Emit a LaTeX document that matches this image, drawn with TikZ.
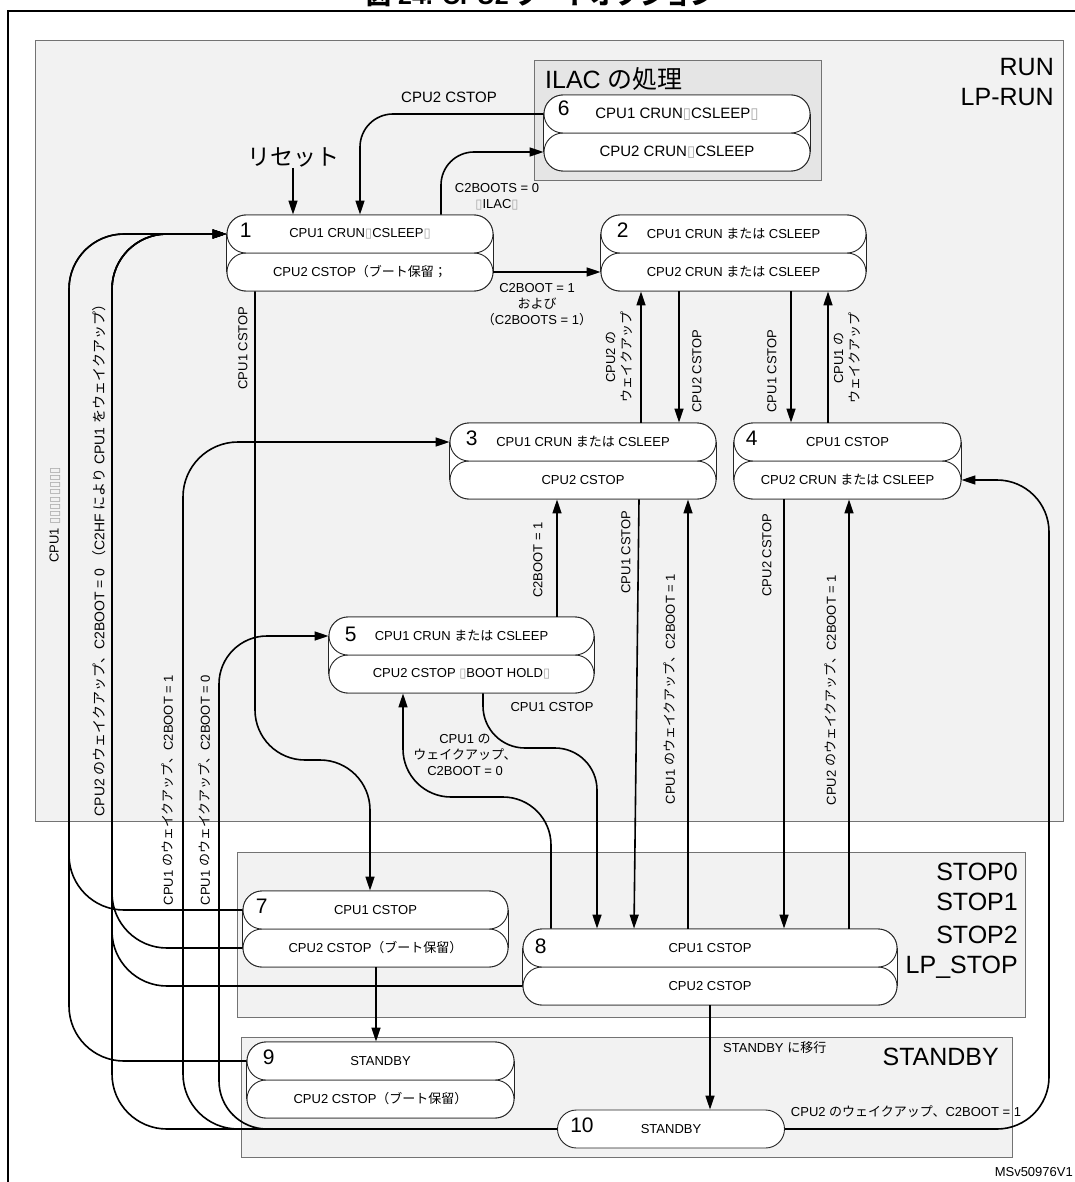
\documentclass[tikz,border=0pt]{standalone}
\usepackage{fontspec}
\usepackage{graphicx}
\setmainfont{Liberation Sans}
\newfontfamily\jpfont{Noto Sans CJK JP}
\newfontfamily\boxglyphfont{DejaVu Sans}
\usetikzlibrary{arrows.meta,shapes.misc}
\newcommand\J[1]{{\jpfont #1}}
\newcommand\tofu{{\color{black!35}\boxglyphfont ▯}}

\tikzset{
  half/.style={rounded rectangle, draw=black!85, fill=white, line width=0.9pt,
    minimum height=38pt, inner sep=0pt, font=\fontsize{13}{15}\selectfont},
  num/.style={anchor=west, inner sep=0pt, font=\fontsize{21}{23}\selectfont},
  wire/.style={line width=1.6pt, line join=round},
  flow/.style={wire, -{Triangle[length=14pt,width=9pt]}},
  lbl/.style={inner sep=1pt, font=\fontsize{13}{16}\selectfont, align=center},
  vlbl/.style={lbl, rotate=90},
  region/.style={draw=black!55, fill=black!5, line width=0.9pt},
  mode/.style={anchor=east, inner sep=0pt, font=\fontsize{25}{28}\selectfont},
}

% two-layer state box: name, centre x, top y, width, upper text, lower text
\newcommand\statebox[6]{%
  \node[half, minimum width=#4pt] (#1b) at (#2,#3+57) {};
  \node[half, minimum width=#4pt] (#1t) at (#2,#3+19) {};
  \fill[white] (#1t.west) rectangle (#1b.east);
  \draw[line width=0.6pt, black!85] (#1t.west) -- (#1b.west) (#1t.east) -- (#1b.east);
  \node[half, minimum width=#4pt] (#1b) at (#2,#3+57) {#6};
  \node[half, minimum width=#4pt] (#1t) at (#2,#3+19) {#5};
}

\begin{document}
\begin{tikzpicture}[x=1pt,y=-1pt]
\useasboundingbox (0,0) rectangle (1074,1182);

% frame and caption
\draw[line width=1.8pt] (8,11) rectangle (1090,1200);
\node[anchor=base, inner sep=0pt, font=\bfseries\fontsize{25}{28}\selectfont] (title) at (541,5)
  {\J{図} 24. CPU2 \J{ブートオプション}};

% power-mode regions
\draw[region] (35,40) rectangle (1063,821);
\draw[region, fill=black!10] (534,60) rectangle (821,180);
\draw[region] (237,852) rectangle (1025,1017);
\draw[region] (241,1037) rectangle (1012,1157);

\node[mode] (mRun) at (1054,67) {RUN};
\node[mode] (mLpRun) at (1054,97) {LP-RUN};
\node[mode, anchor=west] (mIlac) at (545,79) {ILAC \J{の処理}};
\node[mode] (mStop0) at (1018,872) {STOP0};
\node[mode] (mStop1) at (1018,902) {STOP1};
\node[mode] (mStop2) at (1018,935) {STOP2};
\node[mode] (mLpStop) at (1018,967) {LP\_STOP};
\node[mode] (mStandby) at (999,1057) {STANDBY};

% routing channels and bends
\coordinate (xA) at (69,0);
\coordinate (xB) at (112,0);
\coordinate (xC) at (183,0);
\coordinate (xD) at (219,0);
\coordinate (xR) at (1049,0);
\coordinate (xS) at (360,0);
\coordinate (xT) at (441,0);
\coordinate (xU) at (255,760);
\coordinate (k7) at (370,0);
\coordinate (v1) at (641,0);
\coordinate (v2) at (679,0);
\coordinate (v3) at (791,0);
\coordinate (v4) at (828,0);
\coordinate (v5) at (557,0);
\coordinate (v6) at (639,0);
\coordinate (v6b) at (634,0);
\coordinate (v7) at (688,0);
\coordinate (v8) at (784,0);
\coordinate (v9) at (849,0);
\coordinate (v10) at (483,748);
\coordinate (v11) at (597,0);
\coordinate (v12) at (551,797);
\coordinate (v13) at (403,0);
\coordinate (v14) at (376,0);
\coordinate (v15) at (710,0);

% state boxes
\statebox{b6}{677}{95}{266}{\fontsize{15}{17}\selectfont CPU1 CRUN\tofu{}CSLEEP\tofu}{\fontsize{15}{17}\selectfont CPU2 CRUN\tofu{}CSLEEP}
\statebox{b1}{360}{215}{266}{CPU1 CRUN\tofu{}CSLEEP\tofu}{CPU2 CSTOP\J{（ブート保留；}}
\statebox{b2}{733.5}{215}{265}{CPU1 CRUN \J{または} CSLEEP}{CPU2 CRUN \J{または} CSLEEP}
\statebox{b3}{583}{423}{266}{CPU1 CRUN \J{または} CSLEEP}{CPU2 CSTOP}
\statebox{b4}{847.5}{423}{227}{CPU1 CSTOP}{CPU2 CRUN \J{または} CSLEEP}
\statebox{b5}{461.5}{617}{265}{CPU1 CRUN \J{または} CSLEEP}{CPU2 CSTOP \tofu{}BOOT HOLD\tofu}
\statebox{b7}{375.5}{891}{265}{CPU1 CSTOP}{CPU2 CSTOP\J{（ブート保留）}}
\statebox{b8}{710}{929}{374}{CPU1 CSTOP}{CPU2 CSTOP}
\statebox{b9}{380.5}{1042}{267}{STANDBY}{CPU2 CSTOP\J{（ブート保留）}}
\node[half, minimum width=227pt] (b10) at (671,1129) {STANDBY};

\node[num] (n1) at ([xshift=13pt,yshift=4pt]b1t.west) {1};
\node[num] (n2) at ([xshift=16pt,yshift=4pt]b2t.west) {2};
\node[num] (n3) at ([xshift=16pt,yshift=4pt]b3t.west) {3};
\node[num] (n4) at ([xshift=12pt,yshift=4pt]b4t.west) {4};
\node[num] (n5) at ([xshift=16pt,yshift=2pt]b5t.west) {5};
\node[num] (n6) at ([xshift=14pt,yshift=6pt]b6t.west) {6};
\node[num] (n7) at ([xshift=13pt,yshift=4pt]b7t.west) {7};
\node[num] (n8) at ([xshift=12pt,yshift=2pt]b8t.west) {8};
\node[num] (n9) at ([xshift=16pt,yshift=4pt]b9t.west) {9};
\node[num] (n10) at ([xshift=13pt,yshift=4pt]b10.west) {10};

% reset entry
\node[inner sep=1pt, font=\jpfont\fontsize{23}{25}\selectfont] (reset) at (293,157) {リセット};
\draw[flow] (reset.south) -- (reset.south |- b1t.north);

% transitions in RUN
\draw[flow, rounded corners=33pt] (b6t.west) -| (xS |- b1t.north);
\draw[flow, rounded corners=33pt] (xT |- b1t.north) |- (b6b.west);
\draw[flow] (b1b.east) -- (b2b.west);
\draw[flow, rounded corners=50pt] (xU |- b1b.south) -- (xU) -| (k7 |- b7t.north);
\draw[flow] (v1 |- b3t.north) -- (v1 |- b2b.south);
\draw[flow] (v2 |- b2b.south) -- (v2 |- b3t.north);
\draw[flow] (v3 |- b2b.south) -- (v3 |- b4t.north);
\draw[flow] (v4 |- b4t.north) -- (v4 |- b2b.south);
\draw[flow] (v5 |- b5t.north) -- (v5 |- b3b.south);
\draw[flow] (v6 |- b3b.south) -- (v6b |- b8t.north);
\draw[flow] (v7 |- b8t.north) -- (v7 |- b3b.south);
\draw[flow] (v8 |- b4b.south) -- (v8 |- b8t.north);
\draw[flow] (v9 |- b8t.north) -- (v9 |- b4b.south);
\draw[flow, rounded corners=42pt] (v10 |- b5b.south) -- (v10) -| (v11 |- b8t.north);
\draw[flow, rounded corners=48pt] (v12 |- b8t.north) -- (v12) -| (v13 |- b5b.south);
\draw[flow] (v14 |- b7b.south) -- (v14 |- b9t.north);
\draw[flow] (v15 |- b8b.south) -- (v15 |- b10.north);

% wake-up returns along the left and right channels
\draw[flow, rounded corners=55pt] (b7t.west) -| (xA |- b1t.west) -- (b1t.west);
\draw[flow, rounded corners=55pt] (b9t.west) -| (xA |- b1t.west) -- (b1t.west);
\draw[flow, rounded corners=55pt] (b7b.west) -| (xB |- b1t.west) -- (b1t.west);
\draw[flow, rounded corners=55pt] (b8b.west) -| (xB |- b1t.west) -- (b1t.west);
\draw[flow, rounded corners=55pt] (b10.west) -| (xB |- b1t.west) -- (b1t.west);
\draw[flow, rounded corners=55pt] (b10.west) -| (xC |- b3t.west) -- (b3t.west);
\draw[flow, rounded corners=48pt] (b10.west) -| (xD |- b5t.west) -- (b5t.west);
\draw[flow, rounded corners=52pt] (b10.east) -| (xR |- b4b.east) -- (b4b.east);

% transition labels
\node[lbl, font=\fontsize{15}{17}\selectfont] (lCstop) at (449,97) {CPU2 CSTOP};
\node[lbl] (lIlac) at (497,197) {C2BOOTS = 0\\\tofu{}ILAC\tofu};
\node[lbl] (lBoot) at (537,305) {C2BOOT = 1\\\J{および}\\\J{（}C2BOOTS = 1\J{）}};
\node[vlbl] (lA) at (243,348) {CPU1 CSTOP};
\node[vlbl] (lB) at (619,357) {CPU2 \J{の}\\\J{ウェイクアップ}};
\node[vlbl] (lC) at (697,371) {CPU2 CSTOP};
\node[vlbl] (lD) at (772,371) {CPU1 CSTOP};
\node[vlbl] (lE) at (847,358) {CPU1 \J{の}\\\J{ウェイクアップ}};
\node[vlbl] (lF) at (538,560) {C2BOOT = 1};
\node[vlbl] (lG) at (626,552) {CPU1 CSTOP};
\node[vlbl] (lH) at (670,689) {CPU1 \J{のウェイクアップ、}C2BOOT = 1};
\node[vlbl] (lI) at (767,555) {CPU2 CSTOP};
\node[vlbl] (lJ) at (831,690) {CPU2 \J{のウェイクアップ、}C2BOOT = 1};
\node[lbl] (lK) at (552,707) {CPU1 CSTOP};
\node[lbl] (lL) at (465,755) {CPU1 \J{の}\\\J{ウェイクアップ、}\\C2BOOT = 0};
\node[vlbl] (lM) at (55,515) {CPU1 \tofu\tofu\tofu\tofu\tofu\tofu\tofu\tofu};
\node[vlbl, font=\fontsize{14}{16}\selectfont] (lN) at (99,557) {CPU2 \J{のウェイクアップ、}C2BOOT = 0 \J{（}C2HF \J{により} CPU1 \J{をウェイクアップ）}};
\node[vlbl] (lO) at (168,790) {CPU1 \J{のウェイクアップ、}C2BOOT = 1};
\node[vlbl] (lP) at (205,790) {CPU1 \J{のウェイクアップ、}C2BOOT = 0};
\node[lbl, anchor=west] (lQ) at (722,1048) {STANDBY \J{に移行}};
\node[lbl] (lR) at (906,1112) {CPU2 \J{のウェイクアップ、}C2BOOT = 1};
\node[lbl, anchor=east] (lS) at (1074,1172) {MSv50976V1};
\end{tikzpicture}
\end{document}
